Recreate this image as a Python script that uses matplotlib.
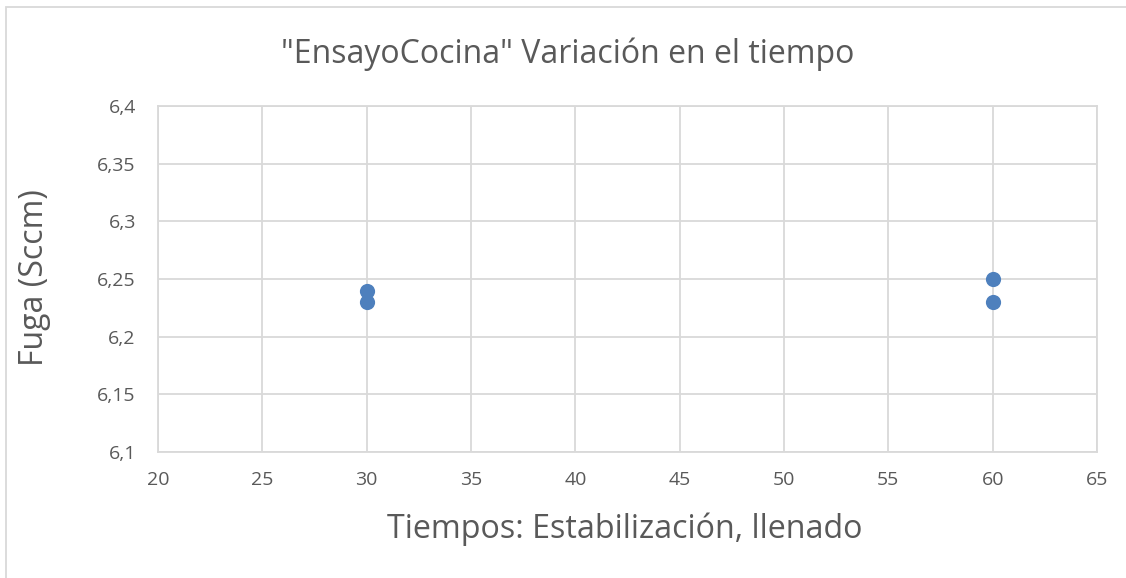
import matplotlib.pyplot as plt
from matplotlib.ticker import FuncFormatter

# data
tiempos = [30, 30, 60, 60]
fuga = [6.24, 6.23, 6.25, 6.23]
x_ticks = [20, 25, 30, 35, 40, 45, 50, 55, 60, 65]
y_ticks = [6.1, 6.15, 6.2, 6.25, 6.3, 6.35, 6.4]

plt.rcParams['font.family'] = ['Open Sans', 'DejaVu Sans']
text_color = '#595959'
grid_color = '#d9d9d9'

fig = plt.figure(figsize=(11.26, 5.78), dpi=100)
ax = fig.add_axes([158 / 1126, 1 - 452 / 578, (1097 - 158) / 1126, (452 - 106) / 578])

ax.scatter(tiempos, fuga, s=120, color='#4e80bd', zorder=3, linewidths=0)

ax.set_xlim(20, 65)
ax.set_ylim(6.1, 6.4)
ax.set_xticks(x_ticks)
ax.set_yticks(y_ticks)
ax.yaxis.set_major_formatter(FuncFormatter(lambda v, p: f'{v:g}'.replace('.', ',')))
ax.grid(True, color=grid_color, linewidth=1.3)
ax.set_axisbelow(True)
for s in ax.spines.values():
    s.set_color(grid_color)
    s.set_linewidth(1.3)
ax.tick_params(length=0, labelsize=14, colors=text_color)
ax.tick_params(axis='y', pad=16)
ax.tick_params(axis='x', pad=14)

ax.set_xlabel('Tiempos: Estabilización, llenado', fontsize=23.2, color=text_color, va='center')
ax.xaxis.set_label_coords((625 - 158) / 939, (452 - 529) / 346)
ax.set_ylabel('Fuga (Sccm)', fontsize=23, color=text_color, va='center')
ax.yaxis.set_label_coords((35 - 158) / 939, (452 - 278) / 346)
fig.text(568 / 1126, 1 - 54 / 578, '"EnsayoCocina" Variación en el tiempo',
         fontsize=23, color=text_color, ha='center', va='center')

# chart border
fig.add_artist(plt.Rectangle((6 / 1126, -0.05), 1.2, 1 - 7 / 578 + 0.05,
                             transform=fig.transFigure, fill=False,
                             edgecolor='#d9d9d9', linewidth=1.3))

fig.savefig('out.png', dpi=100)
